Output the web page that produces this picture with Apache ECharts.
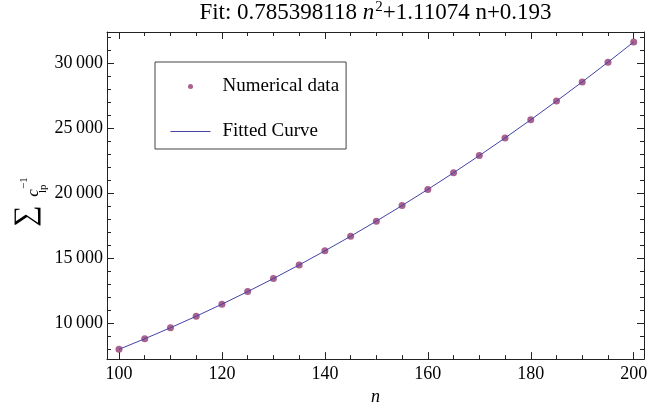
<!DOCTYPE html>
<html>
<head>
<meta charset="utf-8">
<script src="https://cdn.jsdelivr.net/npm/echarts@6/dist/echarts.min.js"></script>
<style>
html,body{margin:0;padding:0;background:#fff;}
#chart{width:661px;height:411px;}
</style>
</head>
<body>
<div id="chart"></div>
<script>
// ---- data ----
var nValues = [100, 105, 110, 115, 120, 125, 130, 135, 140, 145, 150, 155, 160, 165, 170, 175, 180, 185, 190, 195, 200];
var sumValues = [7965, 8776, 9626, 10515, 11443, 12411, 13418, 14464, 15550, 16674, 17838, 19042, 20284, 21566, 22887, 24247, 25647, 27086, 28564, 30082, 31638];
var fitValues = [7965, 8776, 9626, 10515, 11443, 12411, 13418, 14464, 15550, 16674, 17838, 19042, 20284, 21566, 22887, 24247, 25647, 27086, 28564, 30082, 31638];
var seriesNames = ['Numerical data', 'Fitted Curve'];
var titleParts = ['Fit: 0.785398118 ', 'n', '2', '+1.11074 n+0.193'];
var xRange = [97.67, 202];
var yRange = [7212, 32408];

var FONT = '"Liberation Serif", "Times New Roman", serif';
var AX = '#222';
var DOT = '#953A72';
var LINE = '#4343A6';

function fmtY(v) {
  return String(v).replace(/(\d)(?=(\d{3})+$)/g, '$1\u2009');
}

var chart = echarts.init(document.getElementById('chart'), null, {renderer: 'canvas'});

function axisCommon() {
  return {
    axisLine: {show: true, onZero: false, lineStyle: {color: AX, width: 1}},
    axisTick: {show: true, inside: true, length: 7, lineStyle: {color: AX, width: 1}},
    minorTick: {show: true, length: 4, lineStyle: {color: AX, width: 1}},
    splitLine: {show: false},
    minorSplitLine: {show: false}
  };
}

var xBottom = Object.assign(axisCommon(), {
  type: 'value', position: 'bottom', min: xRange[0], max: xRange[1],
  minInterval: 20, maxInterval: 20,
  name: 'n', nameLocation: 'middle', nameGap: 24,
  nameTextStyle: {fontFamily: FONT, fontSize: 18, fontStyle: 'italic', color: '#000'},
  axisLabel: {show: true, margin: 6, fontFamily: FONT, fontSize: 18, color: '#000', showMinLabel: false, showMaxLabel: false}
});
xBottom.minorTick.splitNumber = 4;
var xTop = Object.assign(axisCommon(), {
  type: 'value', position: 'top', min: xRange[0], max: xRange[1],
  minInterval: 20, maxInterval: 20,
  axisLabel: {show: false}
});
xTop.minorTick.splitNumber = 4;
var yLeft = Object.assign(axisCommon(), {
  type: 'value', position: 'left', min: yRange[0], max: yRange[1],
  minInterval: 5000, maxInterval: 5000,
  axisLabel: {show: true, margin: 4, fontFamily: FONT, fontSize: 18, color: '#000', showMinLabel: false, showMaxLabel: false, formatter: fmtY}
});
yLeft.minorTick.splitNumber = 5;
var yRight = Object.assign(axisCommon(), {
  type: 'value', position: 'right', min: yRange[0], max: yRange[1],
  minInterval: 5000, maxInterval: 5000,
  axisLabel: {show: false}
});
yRight.minorTick.splitNumber = 5;

var scatterData = nValues.map(function (n, i) { return [n, sumValues[i]]; });
var lineData = nValues.map(function (n, i) { return [n, fitValues[i]]; });

var option = {
  backgroundColor: '#fff',
  animation: false,
  grid: {left: 107, right: 17, top: 32, bottom: 47, containLabel: false},
  xAxis: [xBottom, xTop],
  yAxis: [yLeft, yRight],
  legend: {
    orient: 'vertical', left: 155, top: 62,
    padding: [15, 7, 8, 15],
    itemWidth: 40, itemHeight: 5, itemGap: 26,
    borderColor: '#444', borderWidth: 1,
    textStyle: {fontFamily: FONT, fontSize: 19, color: '#000', padding: [0, 0, 0, 7]},
    data: [
      {name: seriesNames[0], icon: 'circle'},
      {name: seriesNames[1], itemStyle: {opacity: 0}, lineStyle: {color: LINE, width: 1, opacity: 1}}
    ]
  },
  series: [
    {
      name: seriesNames[0], type: 'scatter', xAxisIndex: 0, yAxisIndex: 0,
      symbol: 'circle', symbolSize: 7,
      itemStyle: {color: DOT},
      data: scatterData, z: 2
    },
    {
      name: seriesNames[1], type: 'line', xAxisIndex: 0, yAxisIndex: 0,
      symbol: 'none', showSymbol: false,
      lineStyle: {color: LINE, width: 1},
      itemStyle: {color: LINE},
      data: lineData, z: 3
    }
  ],
  graphic: [
    {
      type: 'text', x: 375.5, y: 13, z: 10,
      style: {
        text: titleParts[0] + '{i|' + titleParts[1] + '}{s|' + titleParts[2] + '}' + titleParts[3],
        font: '23px ' + FONT, fill: '#000', align: 'center', verticalAlign: 'middle',
        rich: {
          i: {fontFamily: FONT, fontSize: 23, fontStyle: 'italic', fill: '#000'},
          s: {fontFamily: FONT, fontSize: 15, fill: '#000', padding: [0, 0, 11, 1]}
        }
      }
    },
    {
      type: 'group', x: 40, y: 222, rotation: Math.PI / 2, z: 10,
      children: [
        {type: 'text', x: 6, y: -14, style: {text: '\u2211', font: '30px ' + FONT, fill: '#000', align: 'center', verticalAlign: 'middle'}},
        {type: 'text', x: 29, y: -6, style: {text: 'c', font: 'italic 17px ' + FONT, fill: '#000', align: 'center', verticalAlign: 'middle'}},
        {type: 'text', x: 29, y: 3, style: {text: 'lp', font: '11px ' + FONT, fill: '#000', align: 'left', verticalAlign: 'middle'}},
        {type: 'text', x: 33, y: -16, style: {text: '\u22121', font: '11px ' + FONT, fill: '#000', align: 'left', verticalAlign: 'middle'}}
      ]
    }
  ]
};
chart.setOption(option);
</script>
</body>
</html>
